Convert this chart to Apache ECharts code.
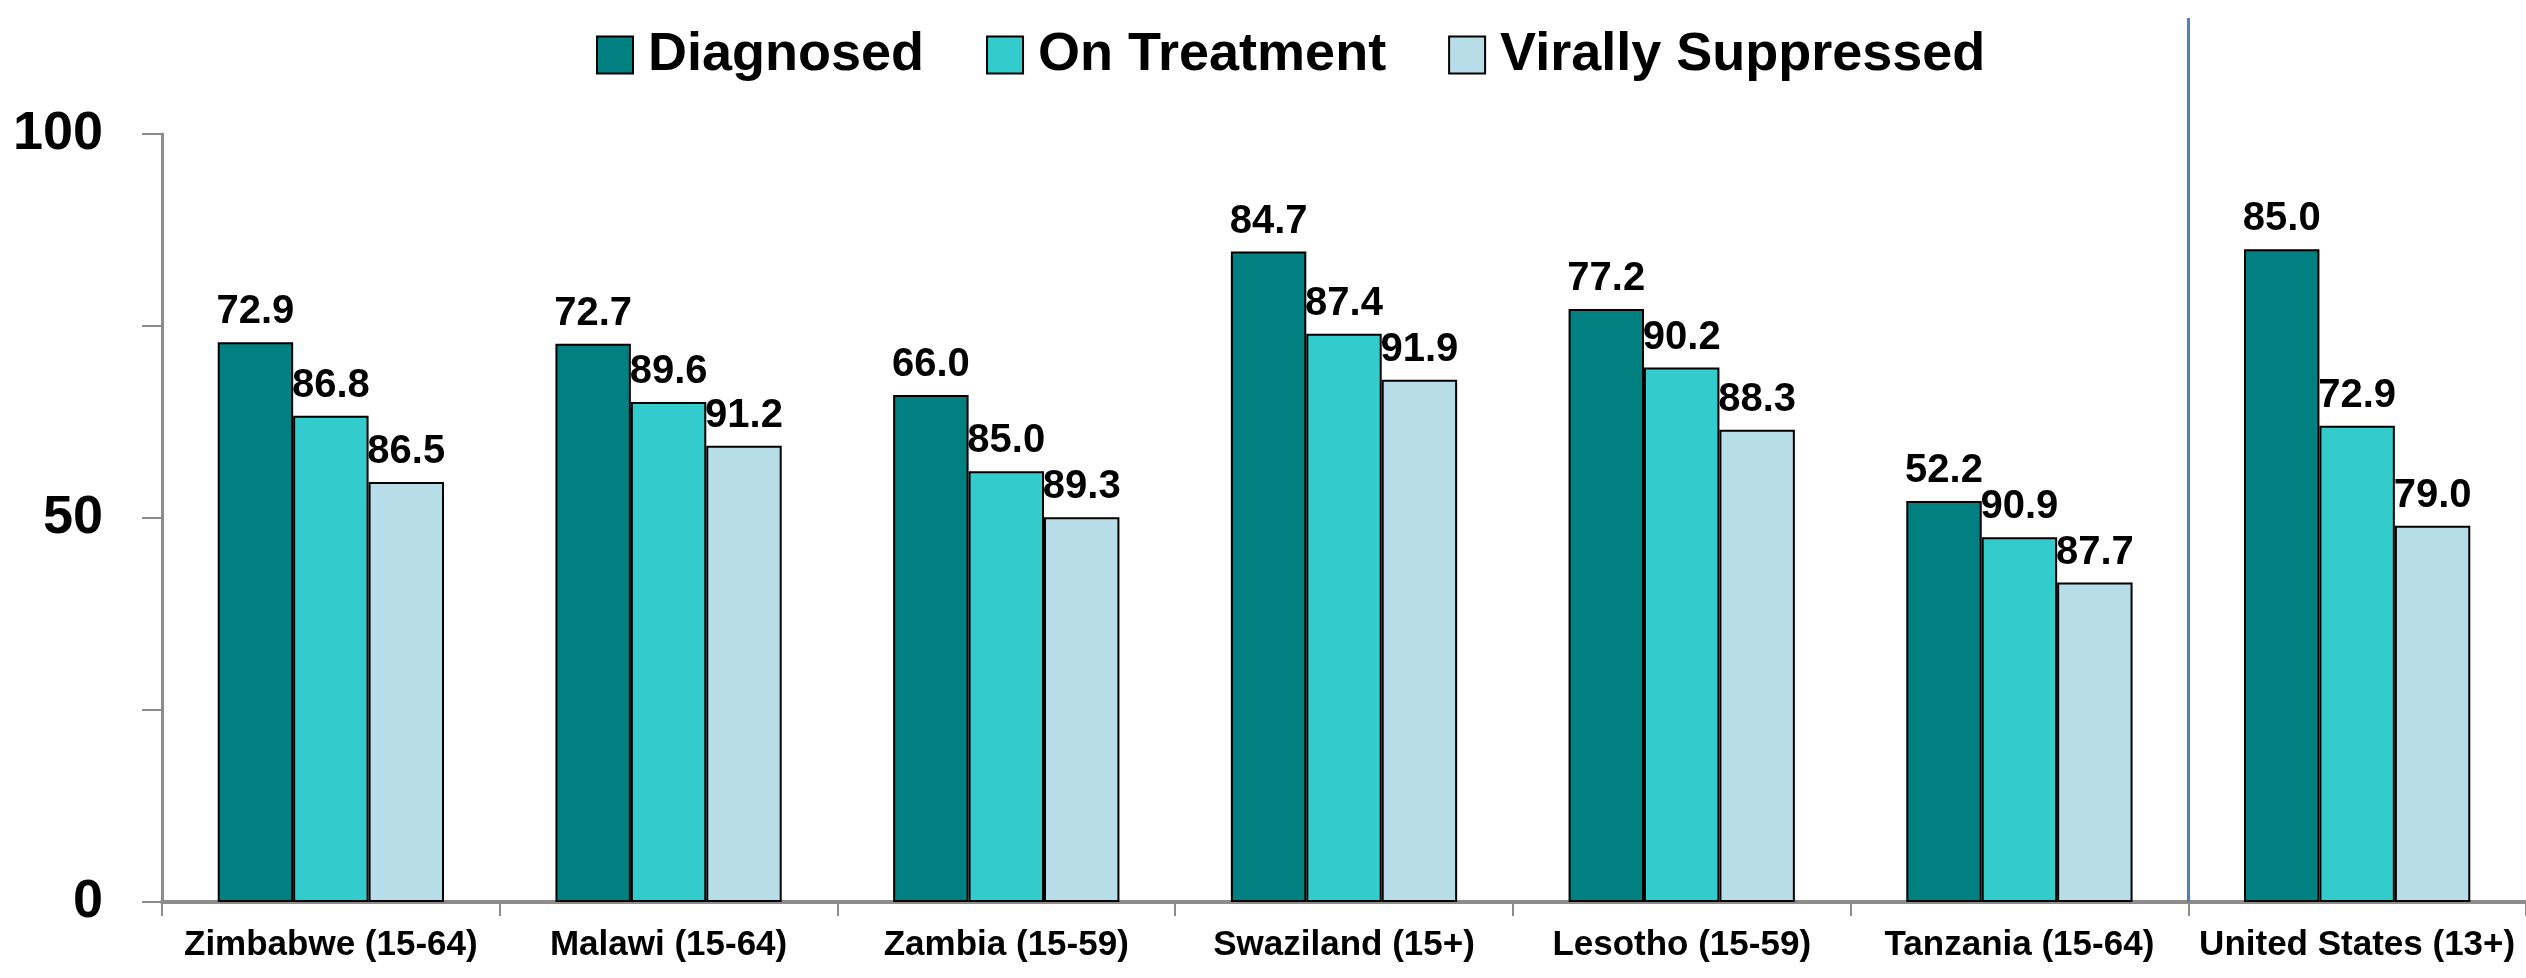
<!DOCTYPE html>
<html lang="en">
    <head>
        <meta charset="UTF-8">
        <title>Diagnosed / On Treatment / Virally Suppressed</title>
        <script src="https://cdn.jsdelivr.net/npm/echarts@6/dist/echarts.min.js"></script>
        <style>
            html, body { margin: 0; padding: 0; background: #fff; }
        </style>
    </head>
    <body>
        <div id="chart_1" style="width:2526px; height:978px;"></div>
        <script>
            // categories and values
            var countries = ['Zimbabwe (15-64)', 'Malawi (15-64)', 'Zambia (15-59)', 'Swaziland (15+)',
                             'Lesotho (15-59)', 'Tanzania (15-64)', 'United States (13+)'];
            // bar heights (share of all people living with HIV)
            var diagnosed = [72.9, 72.7, 66.0, 84.7, 77.2, 52.2, 85.0];
            var onTreatment = [63.3, 65.1, 56.1, 74.0, 69.6, 47.5, 62.0];
            var suppressed = [54.7, 59.4, 50.1, 68.0, 61.5, 41.6, 49.0];
            // printed labels (step percentages)
            var diagnosedLabels = ['72.9', '72.7', '66.0', '84.7', '77.2', '52.2', '85.0'];
            var treatmentLabels = ['86.8', '89.6', '85.0', '87.4', '90.2', '90.9', '72.9'];
            var suppressedLabels = ['86.5', '91.2', '89.3', '91.9', '88.3', '87.7', '79.0'];
            var yTicks = [0, 50, 100];
            // the blue divider sits before the last category
            var dividerAt = countries.length - 1;

            var FONT = '"Liberation Sans", Arial, sans-serif';

            let myChart = echarts.init(document.getElementById("chart_1"));

            function barSeries(name, values, labels, color) {
                return {
                    name: name,
                    type: 'bar',
                    barGap: '0%',
                    barCategoryGap: '33%',
                    itemStyle: { color: color, borderColor: '#000', borderWidth: 2 },
                    label: {
                        show: true,
                        position: 'top',
                        distance: 10,
                        color: '#000',
                        fontFamily: FONT,
                        fontWeight: 'bold',
                        fontSize: 40,
                        formatter: function (p) { return labels[p.dataIndex]; }
                    },
                    data: values
                };
            }

            option = {
                animation: false,
                backgroundColor: '#fff',
                legend: {
                    top: 23,
                    left: 591,
                    itemWidth: 36,
                    itemHeight: 37,
                    itemGap: 62,
                    icon: 'rect',
                    textStyle: {
                        fontFamily: FONT,
                        fontWeight: 'bold',
                        fontSize: 54,
                        color: '#000',
                        padding: [0, 0, 0, 10]
                    },
                    data: ['Diagnosed', 'On Treatment', 'Virally Suppressed']
                },
                grid: [
                    { left: 162, right: -8, top: 134, bottom: 76 },
                    { left: 162, right: -8, top: 18, bottom: 76 }
                ],
                xAxis: [{
                    type: 'category',
                    gridIndex: 0,
                    data: countries,
                    axisLine: { lineStyle: { color: '#8c8c8c', width: 4 } },
                    axisTick: { show: true, length: 14, lineStyle: { color: '#8c8c8c', width: 2 } },
                    axisLabel: {
                        margin: 26,
                        color: '#000',
                        fontFamily: FONT,
                        fontWeight: 'bold',
                        fontSize: 35,
                        interval: 0
                    }
                }, {
                    type: 'value',
                    gridIndex: 1,
                    min: 0,
                    max: countries.length,
                    show: false
                }],
                yAxis: [{
                    type: 'value',
                    gridIndex: 0,
                    min: 0,
                    max: 100,
                    interval: 25,
                    splitLine: { show: false },
                    axisLine: { show: true, lineStyle: { color: '#8c8c8c', width: 3 } },
                    axisTick: { show: true, length: 20, lineStyle: { color: '#8c8c8c', width: 2 } },
                    axisLabel: {
                        margin: 59,
                        color: '#000',
                        fontFamily: FONT,
                        fontWeight: 'bold',
                        fontSize: 54,
                        formatter: function (v) { return yTicks.indexOf(v) >= 0 ? String(v) : ''; }
                    }
                }, {
                    type: 'value',
                    gridIndex: 1,
                    min: 0,
                    max: 1,
                    show: false
                }],
                series: [
                    barSeries('Diagnosed', diagnosed, diagnosedLabels, '#008080'),
                    barSeries('On Treatment', onTreatment, treatmentLabels, '#33CCCC'),
                    barSeries('Virally Suppressed', suppressed, suppressedLabels, '#B7DEE8'),
                    {
                        // separator between African countries and the US
                        type: 'line',
                        xAxisIndex: 1,
                        yAxisIndex: 1,
                        data: [],
                        silent: true,
                        markLine: {
                            symbol: 'none',
                            label: { show: false },
                            lineStyle: { color: '#4F81BD', width: 3, type: 'solid' },
                            data: [{ xAxis: dividerAt }]
                        }
                    }
                ]
            };

            myChart.setOption(option);
        </script>
    </body>
</html>
